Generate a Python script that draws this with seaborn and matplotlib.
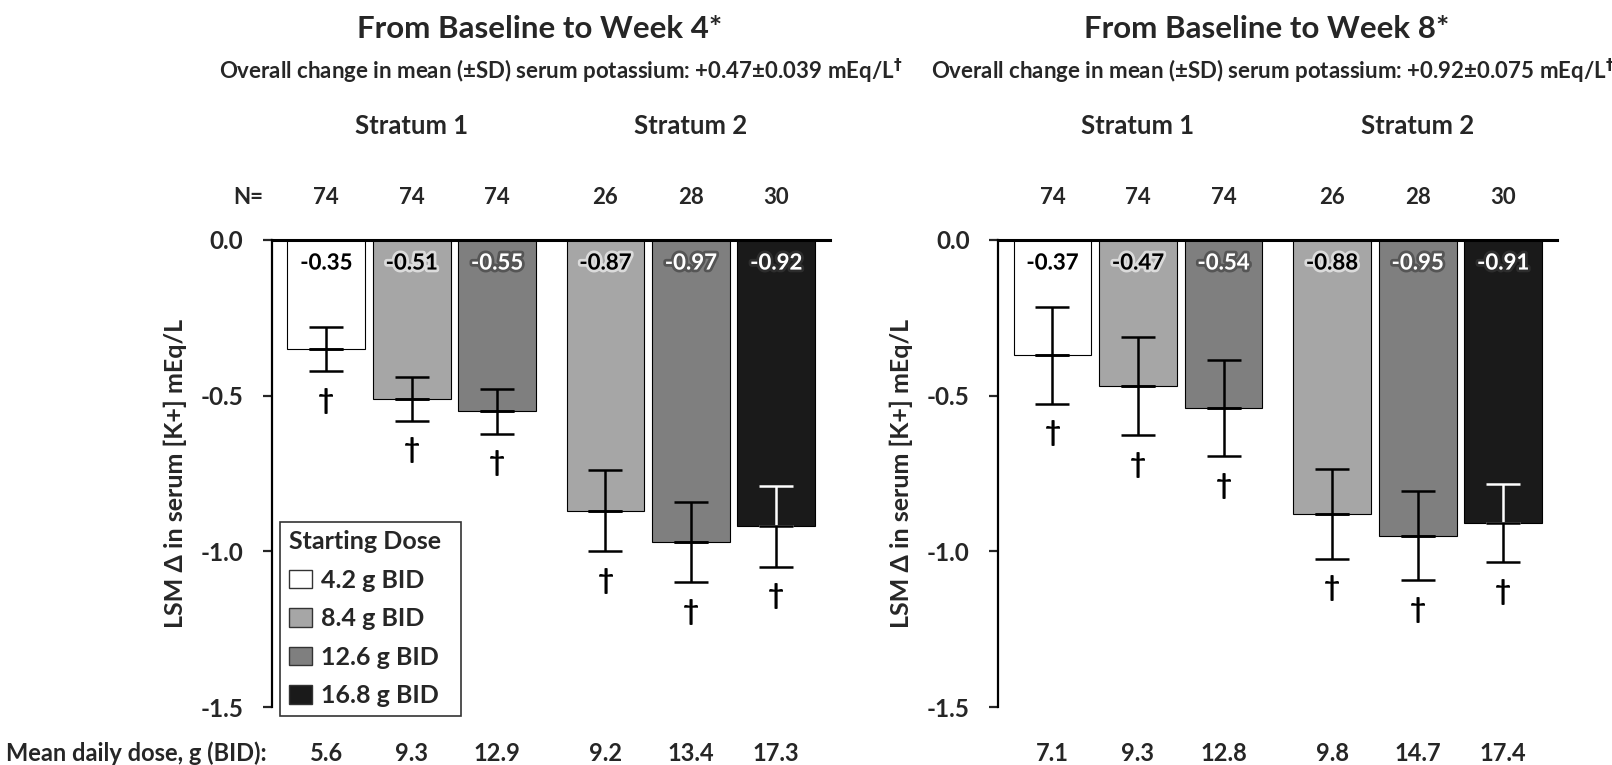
import numpy as np
import pandas as pd
import matplotlib
matplotlib.use("Agg")
import matplotlib.pyplot as plt
import matplotlib.patheffects as pe
from matplotlib.patches import Patch
from matplotlib.transforms import blended_transform_factory
import seaborn as sns

# ---- data ----
strata = ["Stratum 1", "Stratum 1", "Stratum 1", "Stratum 2", "Stratum 2", "Stratum 2"]
start_dose = ["4.2 g BID", "8.4 g BID", "12.6 g BID", "8.4 g BID", "12.6 g BID", "16.8 g BID"]
n_patients = [74, 74, 74, 26, 28, 30]

wk4_lsm = [-0.35, -0.51, -0.55, -0.87, -0.97, -0.92]
wk4_err = [0.072, 0.071, 0.072, 0.13, 0.13, 0.13]
wk4_dose = ["5.6", "9.3", "12.9", "9.2", "13.4", "17.3"]

wk8_lsm = [-0.37, -0.47, -0.54, -0.88, -0.95, -0.91]
wk8_err = [0.156, 0.157, 0.155, 0.144, 0.143, 0.125]
wk8_dose = ["7.1", "9.3", "12.8", "9.8", "14.7", "17.4"]

dose_levels = ["4.2 g BID", "8.4 g BID", "12.6 g BID", "16.8 g BID"]
dose_colors = ["#ffffff", "#a6a6a6", "#7f7f7f", "#1a1a1a"]

titles = ["From Baseline to Week 4*", "From Baseline to Week 8*"]
subtitles = ["Overall change in mean (\u00b1SD) serum potassium: +0.47\u00b10.039 mEq/L$^{\\dagger}$",
             "Overall change in mean (\u00b1SD) serum potassium: +0.92\u00b10.075 mEq/L$^{\\dagger}$"]

sns.set_style("white")
plt.rcParams["font.family"] = ["Lato", "DejaVu Sans"]
plt.rcParams["font.weight"] = "bold"
plt.rcParams["axes.unicode_minus"] = False
plt.rcParams["mathtext.default"] = "bf"

palette = dict(zip(dose_levels, dose_colors))

# bar positions: small extra gap between the two strata
group = np.array([0 if s == "Stratum 1" else 1 for s in strata])
pos = np.arange(len(strata)) + 0.27 * group

fig = plt.figure(figsize=(16.12, 7.65), dpi=100)
ax_l = fig.add_axes([0.1687, 0.0758, 0.3462, 0.6105])
ax_r = fig.add_axes([0.6191, 0.0758, 0.3468, 0.6105])

panels = [
    (ax_l, wk4_lsm, wk4_err, wk4_dose, titles[0], subtitles[0], True),
    (ax_r, wk8_lsm, wk8_err, wk8_dose, titles[1], subtitles[1], False),
]

for ax, lsm, err, dose, title, subtitle, first in panels:
    df = pd.DataFrame({"pos": pos, "lsm": lsm, "dose": start_dose})
    sns.barplot(data=df, x="pos", y="lsm", hue="dose", hue_order=dose_levels,
                palette=palette, native_scale=True, dodge=False, width=0.91,
                errorbar=None, edgecolor="black", linewidth=0.8, legend=False, ax=ax)

    # error bars; on the darkest bar the part inside the bar shows white
    for x, m, e, d in zip(pos, lsm, err, start_dose):
        up_col = "white" if palette[d] == "#1a1a1a" else "black"
        ax.errorbar(x, m, yerr=[[0], [e]], color=up_col, capsize=12,
                    elinewidth=1.8, capthick=1.8, zorder=5)
        ax.errorbar(x, m, yerr=[[e], [0]], color="black", capsize=12,
                    elinewidth=1.8, capthick=1.8, zorder=5)
        ax.text(x, m - e - 0.095, "\u2020", ha="center", va="center",
                fontsize=20, color="black")
        # value label inside the bar
        dark = palette[d] in ("#7f7f7f", "#1a1a1a")
        fc = "white" if dark else "black"
        gc = "#3a3a3a" if dark else "white"
        ax.text(x, -0.074, f"{m:.2f}", ha="center", va="center", fontsize=16,
                color=fc, zorder=6,
                path_effects=[pe.withStroke(linewidth=4, foreground=gc, alpha=0.6)])

    ax.set_xlim(-0.637, pos[-1] + 0.63)
    ax.set_ylim(-1.5, 0.0)
    ax.set_yticks([0.0, -0.5, -1.0, -1.5])
    ax.set_yticklabels(["0.0", "-0.5", "-1.0", "-1.5"])
    ax.set_xticks([])
    ax.set_xlabel("")
    ax.set_ylabel("LSM \u0394 in serum [K+] mEq/L", fontsize=18, fontweight="bold")
    ax.yaxis.set_label_coords(-0.152, 0.5)
    ax.tick_params(axis="y", direction="out", length=6.5, width=1.6,
                   labelsize=17.5, pad=14, left=True)

    for side in ["right", "bottom"]:
        ax.spines[side].set_visible(False)
    ax.spines["top"].set_linewidth(2.2)
    ax.spines["left"].set_linewidth(1.6)
    ax.spines["top"].set_color("black")
    ax.spines["left"].set_color("black")

    trans = blended_transform_factory(ax.transData, ax.transAxes)
    for x, n, d in zip(pos, n_patients, dose):
        ax.text(x, 1.09, str(n), transform=trans, ha="center", va="center", fontsize=16)
        ax.text(x, -0.0985, d, transform=trans, ha="center", va="center", fontsize=17)
    for s in ["Stratum 1", "Stratum 2"]:
        xs = pos[np.array(strata) == s].mean()
        ax.text(xs, 1.245, s, transform=trans, ha="center", va="center", fontsize=18.5)

    ax.text(0.48, 1.452, title, transform=ax.transAxes, ha="center", va="center", fontsize=22.5)
    ax.text(0.518 if first else 0.492, 1.36, subtitle, transform=ax.transAxes,
            ha="center", va="center", fontsize=16)

    if first:
        ax.text(-0.015, 1.09, "N=", transform=ax.transAxes, ha="right", va="center", fontsize=16)
        handles = [Patch(facecolor=palette[d], edgecolor="#333333", linewidth=1.0) for d in dose_levels]
        leg = ax.legend(handles, dose_levels, title="Starting Dose", loc="upper left",
                        bbox_to_anchor=(0.0143, 0.397, 0.324, 0.0), mode="expand",
                        borderaxespad=0, frameon=True,
                        fancybox=False, edgecolor="black", fontsize=18,
                        title_fontproperties={"size": 18, "weight": "bold"},
                        handlelength=0.95, handleheight=0.75, handletextpad=0.35,
                        labelspacing=0.62, borderpad=0.35, alignment="left")
        leg.get_frame().set_linewidth(1.2)

fig.text(0.004, 1 - 753 / 765, "Mean daily dose, g (BID):", ha="left", va="center", fontsize=17)

plt.savefig("out.png", dpi=100)
